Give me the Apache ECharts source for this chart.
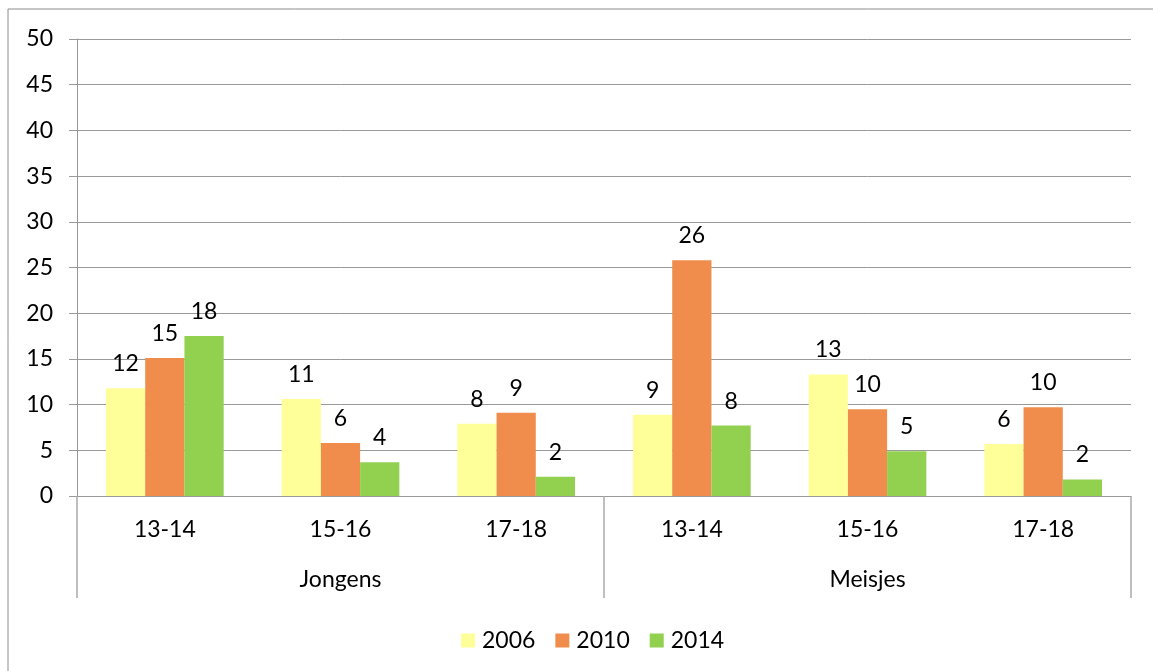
<!DOCTYPE html>
<html>
<head>
<meta charset="utf-8">
<script src="https://cdn.jsdelivr.net/npm/echarts@6/dist/echarts.min.js"></script>
<style>
  html, body { margin: 0; padding: 0; background: #fff; }
  #main { width: 1153px; height: 671px; }
</style>
</head>
<body>
<div id="main"></div>
<script>
// age groups (inner level) and gender groups (outer level)
var ages = ['13-14', '15-16', '17-18', '13-14', '15-16', '17-18'];
var groups = ['Jongens', 'Meisjes'];
var years = ['2006', '2010', '2014'];

// values
var v2006 = [11.8, 10.6, 7.9, 8.9, 13.3, 5.7];
var v2010 = [15.1, 5.8, 9.1, 25.8, 9.5, 9.7];
var v2014 = [17.5, 3.7, 2.1, 7.7, 4.9, 1.8];

var colors = ['#FFFF99', '#F08D4C', '#92D050'];
var font = 'Lato, "Noto Sans", sans-serif';

var chartDom = document.getElementById('main');
var myChart = echarts.init(chartDom);

function makeSeries(name, data) {
    return {
        name: name,
        type: 'bar',
        xAxisIndex: 0,
        data: data,
        barGap: 0,
        barCategoryGap: '33%',
        label: {
            show: true,
            position: 'top',
            distance: 13,
            color: '#000',
            fontFamily: font,
            fontSize: 23,
            formatter: function (p) {
                return Math.round(p.value);
            }
        }
    };
}

var option = {
    animation: false,
    color: colors,
    grid: { left: 77, right: 22, top: 39, bottom: 175 },
    graphic: [
        {
            type: 'rect',
            shape: { x: 8, y: 9, width: 1200, height: 700 },
            style: { fill: 'none', stroke: '#8c8c8c', lineWidth: 1 },
            silent: true
        }
    ],
    legend: {
        left: 456,
        top: 624,
        itemWidth: 14,
        itemHeight: 14,
        itemGap: 20,
        icon: 'rect',
        data: years,
        textStyle: { fontFamily: font, fontSize: 23, color: '#000', padding: [0, 0, 0, 2] }
    },
    xAxis: [
        {
            type: 'category',
            data: ages,
            axisLine: { lineStyle: { color: '#999', width: 1 } },
            axisTick: { show: false },
            axisLabel: { margin: 22, color: '#000', fontFamily: font, fontSize: 23 }
        },
        {
            type: 'category',
            data: groups,
            position: 'bottom',
            axisLine: { show: false },
            axisTick: { show: true, length: 102, interval: 0, lineStyle: { color: '#aaa', width: 1.5 } },
            axisLabel: { margin: 72, color: '#000', fontFamily: font, fontSize: 23 }
        }
    ],
    yAxis: {
        type: 'value',
        min: 0,
        max: 50,
        interval: 5,
        axisLine: { show: true, lineStyle: { color: '#999' } },
        axisTick: { show: true, length: 8, lineStyle: { color: '#999' } },
        axisLabel: { margin: 24, color: '#000', fontFamily: font, fontSize: 23 },
        splitLine: { lineStyle: { color: '#999', width: 1 } }
    },
    series: [
        makeSeries(years[0], v2006),
        makeSeries(years[1], v2010),
        makeSeries(years[2], v2014)
    ]
};

option && myChart.setOption(option);
</script>
</body>
</html>
